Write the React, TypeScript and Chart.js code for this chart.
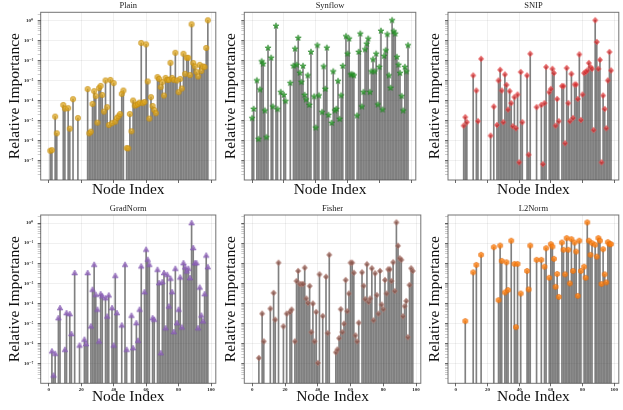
import React, { useEffect, useRef } from "react";
import { Chart, registerables } from "chart.js";

Chart.register(...registerables);

// ---------- shared axis data ----------
const nodeTicks = [0, 20, 40, 60, 80, 100];
const decadeExps = [0, -1, -2, -3, -4, -5, -6, -7];
const panelTitles = ["Plain", "Synflow", "SNIP", "GradNorm", "Fisher", "L2Norm"];

// ---------- series (node index, log10 of relative importance) ----------
const plainNodes = [1, 2, 4, 5, 9, 10, 12, 13, 15, 18, 24, 25, 26, 27, 28, 29, 30, 31, 32, 33, 34, 35, 36, 37, 38, 39, 40, 41, 42, 43, 44, 45, 46, 48, 49, 50, 51, 52, 53, 54, 55, 56, 57, 58, 59, 60, 61, 62, 63, 64, 65, 66, 67, 68, 69, 70, 71, 72, 73, 74, 75, 76, 77, 78, 79, 80, 81, 82, 83, 84, 85, 86, 87, 88, 89, 90, 91, 92, 93, 94, 95, 96, 97, 98];
const plainExp = [-6.5, -6.47, -4.8, -5.63, -4.22, -4.4, -4.38, -5.4, -3.93, -4.87, -3.43, -5.63, -5.55, -4.17, -3.53, -3.78, -5.1, -3.38, -3.27, -3.72, -4.55, -3.0, -4.33, -5.22, -2.97, -5.13, -3.13, -5.05, -4.87, -4.78, -4.67, -3.67, -3.5, -6.37, -6.38, -4.67, -5.53, -4.0, -4.25, -4.22, -4.17, -4.1, -1.13, -4.13, -4.07, -1.2, -3.05, -4.9, -3.83, -4.27, -4.47, -4.63, -2.83, -2.92, -3.33, -3.08, -3.75, -2.87, -2.97, -2.97, -2.12, -2.87, -2.97, -1.62, -3.0, -3.58, -2.92, -3.4, -1.67, -2.67, -1.87, -1.87, -2.73, -0.2, -2.13, -2.3, -2.58, -2.8, -2.22, -2.53, -2.3, -2.33, -1.38, 0.0];

const synflowNodes = [0, 1, 3, 4, 5, 6, 7, 8, 9, 10, 12, 13, 15, 16, 18, 20, 21, 24, 26, 27, 28, 29, 30, 31, 32, 33, 34, 35, 36, 37, 39, 40, 41, 42, 44, 45, 46, 47, 48, 50, 51, 52, 53, 54, 55, 56, 57, 59, 60, 61, 62, 63, 64, 66, 67, 68, 69, 70, 71, 72, 73, 74, 75, 76, 77, 78, 79, 80, 81, 82, 83, 84, 85, 86, 87, 88, 89, 90, 91, 92, 93, 94, 95, 96, 97, 98];
const synflowExp = [-4.88, -4.42, -3.0, -5.92, -3.45, -2.05, -2.17, -4.5, -5.83, -1.38, -1.87, -4.3, -0.28, -4.43, -3.58, -3.72, -4.03, -3.13, -2.27, -1.42, -2.22, -0.88, -2.62, -3.08, -2.28, -3.72, -3.95, -2.75, -4.22, -1.58, -3.8, -5.35, -1.25, -3.75, -4.58, -2.3, -3.42, -1.37, -4.72, -5.12, -2.55, -4.5, -4.42, -3.03, -4.92, -3.75, -2.28, -0.8, -1.67, -0.92, -2.7, -2.7, -2.75, -4.75, -1.58, -0.67, -4.3, -3.58, -1.45, -1.17, -0.92, -3.58, -2.55, -1.95, -2.55, -1.67, -4.2, -2.33, -0.53, -4.45, -1.78, -1.5, -0.7, -2.75, -3.37, 0.0, -0.55, -0.67, -1.83, -2.22, -2.63, -3.78, -4.5, -2.33, -2.55, -1.25];

const snipNodes = [5, 6, 7, 11, 13, 14, 16, 22, 24, 26, 27, 28, 29, 30, 31, 32, 33, 34, 35, 36, 37, 38, 39, 40, 41, 42, 45, 46, 47, 51, 54, 55, 56, 57, 59, 60, 61, 62, 63, 64, 65, 67, 68, 69, 70, 71, 72, 73, 74, 75, 76, 77, 78, 79, 80, 81, 82, 83, 84, 85, 86, 87, 88, 89, 90, 91, 92, 93, 94, 95, 96, 97, 98];
const snipExp = [-5.25, -4.83, -5.08, -2.75, -3.5, -5.03, -1.92, -5.75, -4.3, -5.22, -3.0, -2.47, -3.5, -5.08, -2.7, -3.22, -4.45, -3.53, -4.13, -5.28, -3.83, -5.38, -3.7, -7.08, -2.58, -5.08, -2.75, -6.7, -1.67, -4.33, -4.22, -7.17, -4.13, -2.33, -3.58, -3.42, -2.42, -2.63, -5.25, -3.92, -5.03, -3.28, -3.28, -6.13, -2.38, -4.13, -5.03, -2.67, -4.87, -3.2, -3.2, -3.92, -1.7, -4.97, -3.7, -2.63, -2.58, -2.5, -2.13, -2.33, -2.42, -5.47, 0.0, -1.08, -2.42, -1.97, -7.08, -3.75, -4.42, -5.38, -3.0, -1.58, -2.5];

const gradNormNodes = [2, 3, 4, 6, 7, 10, 11, 13, 14, 16, 19, 22, 23, 24, 26, 27, 28, 29, 30, 31, 32, 33, 35, 36, 37, 39, 40, 41, 42, 45, 47, 48, 51, 52, 54, 55, 56, 57, 59, 60, 61, 62, 64, 65, 67, 68, 69, 70, 71, 72, 73, 74, 75, 76, 77, 78, 79, 80, 81, 82, 83, 84, 85, 86, 87, 88, 89, 90, 91, 92, 93, 94, 95, 96, 97, 98];
const gradNormExp = [-6.37, -7.57, -6.49, -4.72, -4.22, -6.29, -4.47, -4.52, -5.51, -2.48, -6.08, -5.79, -6.01, -2.48, -5.13, -3.31, -2.07, -3.56, -4.3, -5.88, -3.53, -3.64, -3.73, -4.64, -3.59, -4.22, -6.08, -2.62, -4.47, -5.08, -2.07, -6.29, -4.6, -6.21, -4.97, -5.84, -4.3, -2.15, -3.43, -1.32, -1.82, -2.07, -4.72, -4.8, -2.32, -2.98, -6.46, -2.93, -2.48, -5.22, -2.57, -4.14, -2.76, -3.43, -5.41, -2.27, -4.97, -4.3, -2.7, -5.18, -1.99, -2.2, -2.4, -2.27, -2.73, 0.0, -1.24, -1.99, -1.99, -5.22, -3.2, -4.59, -4.88, -3.53, -1.61, -2.19];

const fisherNodes = [4, 6, 7, 11, 13, 14, 16, 19, 21, 23, 24, 26, 27, 28, 29, 30, 31, 32, 33, 34, 35, 36, 37, 38, 39, 40, 41, 43, 45, 46, 47, 51, 52, 53, 54, 55, 56, 57, 58, 59, 60, 61, 62, 63, 64, 65, 67, 68, 69, 70, 71, 72, 73, 74, 75, 76, 77, 78, 79, 80, 81, 82, 83, 84, 85, 86, 87, 88, 89, 90, 91, 92, 93, 94, 95, 96, 97, 98];
const fisherExp = [-6.7, -4.5, -5.88, -4.25, -3.47, -4.8, -1.97, -5.13, -4.5, -4.42, -4.3, -5.88, -2.88, -2.38, -3.03, -3.03, -3.03, -2.22, -3.75, -3.97, -3.13, -5.42, -4.0, -5.88, -4.42, -6.95, -2.55, -4.62, -2.67, -5.47, -1.58, -6.42, -6.28, -5.72, -4.28, -5.42, -5.0, -2.83, -4.38, -3.5, -1.97, -1.97, -2.47, -5.58, -5.88, -4.95, -2.45, -3.12, -3.78, -2.05, -3.92, -3.75, -2.25, -4.83, -2.5, -3.58, -4.5, -2.38, -4.05, -4.28, -2.83, -3.5, -2.3, -2.3, -2.88, -1.95, -3.38, 0.03, -1.13, -1.75, -1.83, -4.63, -4.13, -3.87, -5.67, -3.08, -2.25, -2.38];

const l2NormNodes = [6, 11, 13, 16, 24, 27, 28, 29, 31, 32, 33, 35, 37, 38, 39, 41, 45, 46, 47, 51, 54, 56, 57, 59, 60, 61, 62, 63, 64, 65, 67, 68, 69, 70, 71, 72, 73, 74, 75, 76, 77, 78, 79, 81, 82, 83, 84, 85, 86, 88, 89, 90, 91, 92, 93, 94, 95, 96, 97, 98];
const l2NormExp = [-4.87, -2.45, -2.08, -1.58, -1.2, -3.83, -1.12, -1.88, -3.45, -1.95, -3.33, -0.88, -2.03, -5.17, -2.03, -3.5, -2.38, -3.3, -1.12, -1.83, -1.83, -2.17, -1.25, -2.72, -1.05, -1.17, -1.78, -3.17, -2.53, -3.67, -0.97, -1.33, -2.55, -0.75, -1.33, -3.0, -0.8, -2.38, -0.97, -1.42, -3.62, -0.88, -2.38, -2.17, -2.72, 0.03, -0.88, -1.58, -1.0, -1.08, -1.67, -0.75, -0.88, -3.03, -1.3, -2.55, -2.95, -0.95, -1.05, -1.05];

// ---------- styling / layout ----------
const SERIF = "'Liberation Serif', 'DejaVu Serif', 'Times New Roman', serif";
const X_MIN = -4.9;
const X_MAX = 102.9;
const Y_MIN = 1.1e-8;
const Y_MAX = 2.5;

type MarkerShape = "circle" | "star" | "diamond" | "triangle" | "hexagon";

interface PanelSpec {
  title: string;
  nodes: number[];
  exps: number[];
  shape: MarkerShape;
  fill: string;
  stroke: string;
  left: number;
  top: number;
  width: number;
  height: number;
  yAxisWidth: number;
  padRight: number;
  titlePadTop: number;
  titlePadBottom: number;
  xAxisHeight: number;
  showYLabels: boolean;
  showXLabels: boolean;
  yTitlePad: number;
  xTitlePad: number;
}

const SUP: Record<string, string> = {
  "0": "\u2070", "1": "\u00b9", "2": "\u00b2", "3": "\u00b3", "4": "\u2074",
  "5": "\u2075", "6": "\u2076", "7": "\u2077", "8": "\u2078", "9": "\u2079", "-": "\u207b",
};
function decadeLabel(v: number): string {
  const e = Math.round(Math.log10(v));
  return "10" + String(e).split("").map((c) => SUP[c] || c).join("");
}

function makeMarker(shape: MarkerShape, fill: string, stroke: string): HTMLCanvasElement {
  const c = document.createElement("canvas");
  c.width = 10;
  c.height = 10;
  const g = c.getContext("2d")!;
  const cx = 5, cy = 5;
  g.beginPath();
  if (shape === "circle") {
    g.arc(cx, cy, 2.7, 0, Math.PI * 2);
  } else if (shape === "diamond") {
    g.moveTo(cx, cy - 3.1);
    g.lineTo(cx + 2.7, cy);
    g.lineTo(cx, cy + 3.1);
    g.lineTo(cx - 2.7, cy);
    g.closePath();
  } else if (shape === "triangle") {
    g.moveTo(cx, cy - 3.0);
    g.lineTo(cx + 2.8, cy + 2.0);
    g.lineTo(cx - 2.8, cy + 2.0);
    g.closePath();
  } else if (shape === "star") {
    for (let i = 0; i < 10; i++) {
      const r = i % 2 === 0 ? 3.2 : 1.35;
      const a = -Math.PI / 2 + (i * Math.PI) / 5;
      const px = cx + r * Math.cos(a);
      const py = cy + r * Math.sin(a);
      if (i === 0) g.moveTo(px, py); else g.lineTo(px, py);
    }
    g.closePath();
  } else {
    for (let i = 0; i < 6; i++) {
      const a = -Math.PI / 2 + (i * Math.PI) / 3;
      const px = cx + 2.8 * Math.cos(a);
      const py = cy + 2.8 * Math.sin(a);
      if (i === 0) g.moveTo(px, py); else g.lineTo(px, py);
    }
    g.closePath();
  }
  g.fillStyle = fill;
  g.fill();
  g.lineWidth = 0.6;
  g.strokeStyle = stroke;
  g.stroke();
  return c;
}

const framePlugin = {
  id: "frameBox",
  afterDraw(chart: any) {
    const { ctx, chartArea } = chart;
    if (!chartArea) return;
    ctx.save();
    ctx.strokeStyle = "rgba(80,80,80,0.8)";
    ctx.lineWidth = 1;
    ctx.strokeRect(chartArea.left, chartArea.top, chartArea.right - chartArea.left, chartArea.bottom - chartArea.top);
    ctx.restore();
  },
};

const panels: PanelSpec[] = [
  { title: panelTitles[0], nodes: plainNodes, exps: plainExp, shape: "circle", fill: "rgba(222,166,30,0.75)", stroke: "rgba(190,135,10,0.85)",
    left: 0, top: 0, width: 220, height: 200, yAxisWidth: 40.7, padRight: 2, titlePadTop: 1, titlePadBottom: 1.1, xAxisHeight: 20,
    showYLabels: true, showXLabels: false, yTitlePad: 7.5, xTitlePad: 2.3 },
  { title: panelTitles[1], nodes: synflowNodes, exps: synflowExp, shape: "star", fill: "rgba(44,160,44,0.8)", stroke: "rgba(30,120,30,0.85)",
    left: 220, top: 0, width: 200, height: 200, yAxisWidth: 24.3, padRight: 3, titlePadTop: 1, titlePadBottom: 1.1, xAxisHeight: 20,
    showYLabels: false, showXLabels: false, yTitlePad: 2.7, xTitlePad: 2.3 },
  { title: panelTitles[2], nodes: snipNodes, exps: snipExp, shape: "diamond", fill: "rgba(214,39,40,0.72)", stroke: "rgba(235,110,110,0.85)",
    left: 425, top: 0, width: 198, height: 200, yAxisWidth: 23, padRight: 1, titlePadTop: 1, titlePadBottom: 1.1, xAxisHeight: 20,
    showYLabels: false, showXLabels: false, yTitlePad: 1.7, xTitlePad: 2.3 },
  { title: panelTitles[3], nodes: gradNormNodes, exps: gradNormExp, shape: "triangle", fill: "rgba(148,103,189,0.8)", stroke: "rgba(120,80,170,0.85)",
    left: 0, top: 200, width: 220, height: 210, yAxisWidth: 40.7, padRight: 2, titlePadTop: 3.9, titlePadBottom: 0.9, xAxisHeight: 26.7,
    showYLabels: true, showXLabels: true, yTitlePad: 7.5, xTitlePad: 5.3 },
  { title: panelTitles[4], nodes: fisherNodes, exps: fisherExp, shape: "diamond", fill: "rgba(140,86,75,0.78)", stroke: "rgba(190,140,130,0.85)",
    left: 220, top: 200, width: 205, height: 210, yAxisWidth: 24.3, padRight: 3, titlePadTop: 3.9, titlePadBottom: 0.9, xAxisHeight: 26.7,
    showYLabels: false, showXLabels: true, yTitlePad: 2.7, xTitlePad: 5.3 },
  { title: panelTitles[5], nodes: l2NormNodes, exps: l2NormExp, shape: "hexagon", fill: "rgba(255,127,14,0.8)", stroke: "rgba(220,100,10,0.85)",
    left: 425, top: 200, width: 198, height: 210, yAxisWidth: 23, padRight: 1, titlePadTop: 3.9, titlePadBottom: 0.9, xAxisHeight: 26.7,
    showYLabels: false, showXLabels: true, yTitlePad: 1.7, xTitlePad: 5.3 },
];

function yTicks() {
  const out: { value: number; major: boolean }[] = [];
  for (let e = -8; e <= 0; e++) {
    for (let m = 1; m <= 9; m++) {
      const v = m * Math.pow(10, e);
      if (v >= Y_MIN && v <= Y_MAX) out.push({ value: v, major: m === 1 });
    }
  }
  return out;
}

function StemPanel({ spec }: { spec: PanelSpec }) {
  const ref = useRef<HTMLCanvasElement | null>(null);
  useEffect(() => {
    if (!ref.current) return;
    const points = spec.nodes.map((n, i) => ({ x: n, y: Math.pow(10, spec.exps[i]) }));
    const marker = makeMarker(spec.shape, spec.fill, spec.stroke);
    const chart = new Chart(ref.current, {
      type: "scatter",
      data: {
        datasets: [
          {
            type: "scatter",
            data: points,
            pointStyle: marker,
            pointRadius: 3.2,
            pointHoverRadius: 3.2,
            order: 0,
          } as any,
          {
            type: "bar",
            data: points,
            backgroundColor: "rgba(50,50,50,0.62)",
            borderWidth: 0,
            barThickness: 1,
            order: 1,
          } as any,
        ],
      },
      options: {
        animation: false,
        responsive: false,
        maintainAspectRatio: false,
        devicePixelRatio: 1,
        events: [],
        layout: { padding: { left: 0, right: spec.padRight, top: 0, bottom: 0 } },
        plugins: {
          legend: { display: false },
          tooltip: { enabled: false },
          title: {
            display: true,
            text: spec.title,
            fullSize: false,
            color: "#222",
            font: { family: SERIF, size: 8.5, lineHeight: 1.2, weight: "normal" },
            padding: { top: spec.titlePadTop, bottom: spec.titlePadBottom },
          },
        },
        scales: {
          x: {
            type: "linear",
            min: X_MIN,
            max: X_MAX,
            offset: false,
            afterBuildTicks: (s: any) => {
              s.ticks = nodeTicks.map((v) => ({ value: v, major: true }));
            },
            afterFit: (s: any) => {
              s.height = spec.xAxisHeight;
            },
            border: { display: false },
            grid: {
              offset: false,
              color: "rgba(0,0,0,0.08)",
              lineWidth: 0.8,
              tickLength: 3,
              tickColor: "#444",
              tickWidth: 0.8,
            },
            ticks: {
              display: spec.showXLabels,
              autoSkip: false,
              maxRotation: 0,
              padding: 0,
              color: "#222",
              font: { family: SERIF, size: 5, weight: "bold" },
            },
            title: {
              display: true,
              text: "Node Index",
              color: "#111",
              font: { family: SERIF, size: 15.5, lineHeight: 1 },
              padding: { top: 0, bottom: spec.xTitlePad },
            },
          },
          y: {
            type: "logarithmic",
            min: Y_MIN,
            max: Y_MAX,
            afterBuildTicks: (s: any) => {
              s.ticks = yTicks();
            },
            afterFit: (s: any) => {
              s.width = spec.yAxisWidth;
            },
            border: { display: false },
            grid: {
              color: (ctx: any) => (ctx.tick && ctx.tick.major ? "rgba(0,0,0,0.08)" : "rgba(0,0,0,0)"),
              lineWidth: 0.8,
              tickLength: 3,
              tickColor: (ctx: any) => (ctx.tick && ctx.tick.major ? "#444" : "#999"),
              tickWidth: (ctx: any) => (ctx.tick && ctx.tick.major ? 0.8 : 0.5),
            },
            ticks: {
              display: spec.showYLabels,
              autoSkip: false,
              padding: 4.5,
              color: "#222",
              font: { family: SERIF, size: 5, weight: "bold" },
              callback: (value: any, index: number, ticks: any[]) =>
                ticks[index] && ticks[index].major && decadeExps.includes(Math.round(Math.log10(Number(value))))
                  ? decadeLabel(Number(value))
                  : "",
            },
            title: {
              display: true,
              text: "Relative Importance",
              color: "#111",
              font: { family: SERIF, size: 15.5, lineHeight: 1 },
              padding: { top: spec.yTitlePad, bottom: 0 },
            },
          },
        },
      } as any,
      plugins: [framePlugin],
    });
    return () => chart.destroy();
  }, [spec]);
  return (
    <canvas
      ref={ref}
      width={spec.width}
      height={spec.height}
      style={{ position: "absolute", left: spec.left, top: spec.top, width: spec.width, height: spec.height }}
    />
  );
}

export default function App() {
  return (
    <div style={{ position: "absolute", left: 0, top: 0, width: 623, height: 410, background: "#fff", overflow: "hidden" }}>
      {panels.map((p) => (
        <StemPanel key={p.title} spec={p} />
      ))}
    </div>
  );
}
